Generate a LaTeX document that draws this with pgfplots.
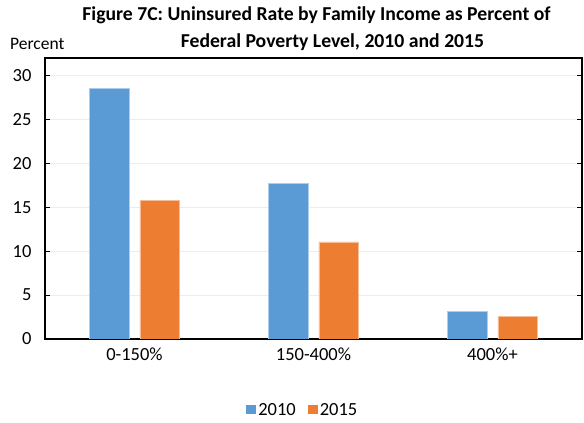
\documentclass[border=0pt]{standalone}
\usepackage{pgfplots}
\pgfplotsset{compat=1.18}
\usepackage{fontspec}
\setmainfont{Carlito}
\definecolor{cA}{HTML}{5B9BD5}
\definecolor{cB}{HTML}{ED7D31}
\definecolor{gridc}{HTML}{EDEDED}
\begin{document}
\begin{tikzpicture}[x=1pt,y=1pt]
\path[use as bounding box] (0,0) rectangle (584,423);
\begin{axis}[
  at={(45pt,84pt)}, anchor=south west,
  scale only axis, width=537pt, height=281pt,
  xmin=-0.5, xmax=2.5, ymin=0, ymax=32,
  ytick={0,5,...,30},
  xtick={0,1,2}, xticklabels={0-150\%,150-400\%,400\%+},
  major x tick style={draw=none},
  extra x ticks={0.5,1.5}, extra x tick labels={},
  extra x tick style={major tick length=5pt, tick style={black, line width=1pt}},
  ymajorgrids, grid style={gridc, line width=0.8pt},
  tick align=inside,
  major tick length=5pt,
  ytick style={black, line width=1pt},
  axis line style={black, line width=1.2pt},
  /pgf/number format/assume math mode=true,
  ticklabel style={font=\fontsize{18.5}{22}\selectfont},
  yticklabel style={xshift=-10pt},
  xticklabel style={yshift=-5pt},
  legend style={at={(0.48,-0.253)}, anchor=center, draw=none, legend columns=2,
    font=\fontsize{18.5}{22}\selectfont,
    /tikz/every even column/.append style={column sep=10pt}},
  legend image code/.code={\path[#1, draw=none] (0pt,-4pt) rectangle (10pt,5pt);},
]
\addplot[ybar, bar width=0.22, bar shift=-0.14, fill=cA, draw=cA!50!white, line width=0.6pt]
  coordinates {(0,28.5) (1,17.7) (2,3.1)};
\addlegendentry{2010}
\addplot[ybar, bar width=0.22, bar shift=0.14, fill=cB, draw=cB!50!white, line width=0.6pt]
  coordinates {(0,15.8) (1,11.05) (2,2.55)};
\addlegendentry{2015}
\end{axis}
\node[anchor=base, font=\bfseries\fontsize{19.7}{23}\selectfont] at (316.5,402) {Figure 7C: Uninsured Rate by Family Income as Percent of};
\node[anchor=base, font=\bfseries\fontsize{19.7}{23}\selectfont] at (332.5,375) {Federal Poverty Level, 2010 and 2015};
\node[anchor=base west, inner sep=0pt, font=\fontsize{17.5}{20}\selectfont] at (10,373) {Percent};
\end{tikzpicture}
\end{document}
